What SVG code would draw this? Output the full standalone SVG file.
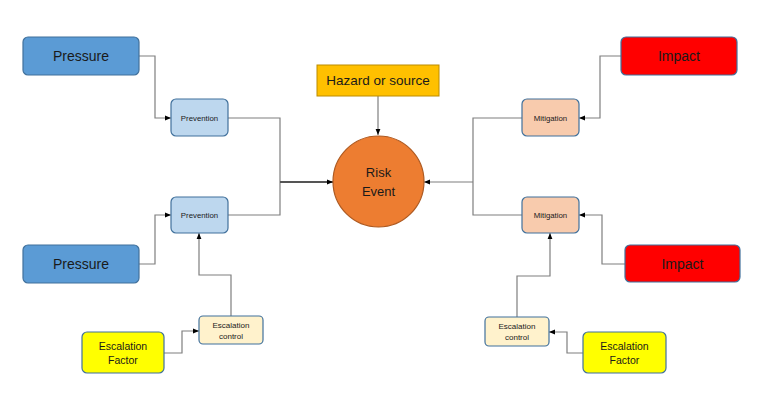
<svg xmlns="http://www.w3.org/2000/svg" width="775" height="400" viewBox="0 0 775 400">
<style>
text{font-family:"Liberation Sans",Arial,sans-serif;fill:#1a1a1a;text-anchor:middle;dominant-baseline:central}
.box{stroke:#41719C;stroke-width:1.2}
.pressure{fill:#5B9BD5}
.prev{fill:#BDD7EE}
.impact{fill:#FF0000}
.mit{fill:#F8CBAD}
.ec{fill:#FFF2CC}
.ef{fill:#FFFF00}
.conn path{fill:none;stroke:#7F7F7F;stroke-width:1.2}
.big{font-size:14px}
.small{font-size:7.8px}
.mid{font-size:8px}
.ef-t{font-size:10.5px}
</style>
<defs>
<marker id="arr" viewBox="0 0 10 10" refX="10" refY="5" markerWidth="6" markerHeight="6" orient="auto" markerUnits="userSpaceOnUse">
<path d="M0,1 L10,5 L0,9 z" fill="#000"/>
</marker>
</defs>
<rect width="775" height="400" fill="#fff"/>
<g class="conn">
<path d="M139,56 H155 V118 H171" marker-end="url(#arr)"/>
<path d="M139,264 H155 V215 H171" marker-end="url(#arr)"/>
<path d="M164,353 H182 V331 H199" marker-end="url(#arr)"/>
<path d="M231,316 V275 H199 V233" marker-end="url(#arr)"/>
<path d="M228,118 H280 V215 H228"/>
<path d="M280,182 H333" marker-end="url(#arr)" style="stroke-width:1.8;stroke:#555"/>
<path d="M378,96 V135" marker-end="url(#arr)"/>
<path d="M621,56 H600 V118 H579" marker-end="url(#arr)"/>
<path d="M625,264 H602 V215 H579" marker-end="url(#arr)"/>
<path d="M583,353 H567 V332 H549" marker-end="url(#arr)"/>
<path d="M517,317 V276 H550 V233" marker-end="url(#arr)"/>
<path d="M522,118 H473 V215 H522"/>
<path d="M473,182 H424" marker-end="url(#arr)"/>
</g>
<g id="pressure1"><rect class="box pressure" x="23" y="37" width="116" height="38" rx="5"/><text class="big" x="81" y="56">Pressure</text></g>
<g id="pressure2"><rect class="box pressure" x="23" y="245" width="116" height="38" rx="5"/><text class="big" x="81" y="264">Pressure</text></g>
<g id="prevention1"><rect class="box prev" x="171" y="99" width="57" height="37" rx="5"/><text class="small" x="199.5" y="118">Prevention</text></g>
<g id="prevention2"><rect class="box prev" x="171" y="197" width="57" height="36" rx="5"/><text class="small" x="199.5" y="215">Prevention</text></g>
<g id="escalation-control-left"><rect class="box ec" x="199" y="316" width="64" height="28" rx="4"/><text class="mid" x="231" y="325">Escalation</text><text class="mid" x="231" y="336">control</text></g>
<g id="escalation-factor-left"><rect class="box ef" x="82" y="332" width="82" height="41" rx="5"/><text class="ef-t" x="123" y="346">Escalation</text><text class="ef-t" x="123" y="360">Factor</text></g>
<g id="hazard"><rect x="317" y="65" width="122" height="31" fill="#FFC000" stroke="#BC8C00" stroke-width="1"/><text x="378" y="80.5" style="font-size:13.5px">Hazard or source</text></g>
<g id="risk-event"><circle cx="378.5" cy="181.5" r="45.5" fill="#ED7D31" stroke="#AE5A21" stroke-width="1.2"/><text x="378.5" y="172" style="font-size:13px">Risk</text><text x="378.5" y="191" style="font-size:13px">Event</text></g>
<g id="impact1"><rect class="box impact" x="621" y="37" width="116" height="38" rx="5"/><text class="big" x="679" y="56">Impact</text></g>
<g id="impact2"><rect class="box impact" x="625" y="245" width="115" height="37" rx="5"/><text class="big" x="682.5" y="264">Impact</text></g>
<g id="mitigation1"><rect class="box mit" x="522" y="99" width="57" height="37" rx="5"/><text class="small" x="550.5" y="118">Mitigation</text></g>
<g id="mitigation2"><rect class="box mit" x="522" y="197" width="57" height="36" rx="5"/><text class="small" x="550.5" y="215">Mitigation</text></g>
<g id="escalation-control-right"><rect class="box ec" x="485" y="317" width="64" height="29" rx="4"/><text class="mid" x="517" y="326">Escalation</text><text class="mid" x="517" y="337">control</text></g>
<g id="escalation-factor-right"><rect class="box ef" x="583" y="332" width="83" height="41" rx="5"/><text class="ef-t" x="624.5" y="346">Escalation</text><text class="ef-t" x="624.5" y="360">Factor</text></g>
</svg>
